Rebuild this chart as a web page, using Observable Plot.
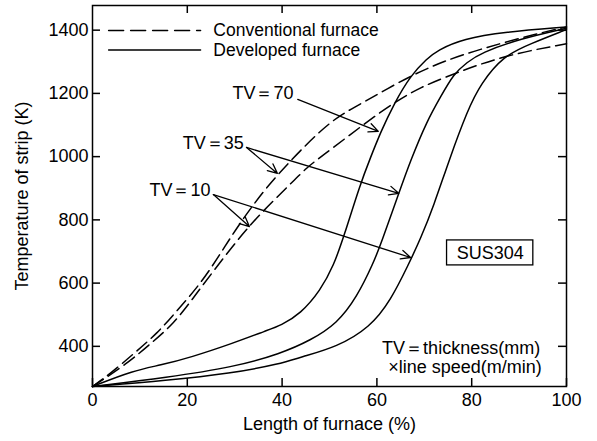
<!DOCTYPE html>
<html>
<head>
<meta charset="utf-8">
<script src="https://cdn.jsdelivr.net/npm/d3@7"></script>
<script src="https://cdn.jsdelivr.net/npm/@observablehq/plot@0.6"></script>
<style>
  html, body { margin: 0; padding: 0; background: #fff; }
  #chart { width: 597px; height: 441px; }
</style>
</head>
<body>
<div id="chart"></div>
<script>
// ---- tick labels ----
const xTicks = [0, 20, 40, 60, 80, 100];
const yTicks = [400, 600, 800, 1000, 1200, 1400];
const xTopTicks = [20, 40, 60, 80];

// ---- Conventional furnace (dashed) ----
const convTV35_x = [0, 3.8, 8.7, 13.6, 17.9, 22.8, 27.0, 30.5, 36.1, 41.8, 48.1, 52.3, 57.2, 62.2, 67.8, 74.1, 81.9, 93.8, 100];
const convTV35_T = [273, 314, 377, 440, 514, 598, 693, 777, 893, 988, 1083, 1132, 1172, 1215, 1260, 1302, 1341, 1389, 1410];
const convTV10_x = [0, 7.3, 12.2, 17.2, 21.4, 25.6, 30.5, 35.4, 41.8, 45.3, 48.1, 57.2, 63.2, 69.2, 76.2, 86.8, 100];
const convTV10_T = [273, 345, 408, 472, 556, 640, 735, 820, 914, 967, 998, 1102, 1167, 1220, 1262, 1320, 1357];

// ---- Developed furnace (solid) ----
const devTV70_x = [0, 8.7, 14.3, 20.7, 29.7, 36.9, 39.7, 43.9, 48.1, 50.9, 53.0, 56.5, 58.6, 60.8, 63.6, 67.1, 70.6, 72.7, 78.3, 86.8, 100];
const devTV70_T = [273, 324, 340, 365, 410, 451, 466, 503, 577, 656, 746, 914, 995, 1078, 1167, 1257, 1310, 1336, 1373, 1394, 1410];
const devTV35_x = [0, 15.8, 29.7, 39.7, 46.0, 51.6, 55.8, 59.3, 60.8, 64.6, 67.1, 70.6, 73.4, 76.2, 79.0, 81.9, 90.3, 100];
const devTV35_T = [273, 302, 334, 377, 419, 472, 556, 665, 722, 883, 988, 1114, 1188, 1262, 1298, 1328, 1373, 1406];
const devTV10_x = [0, 15.8, 29.1, 39.7, 43.9, 51.6, 58.6, 62.9, 66.7, 69.2, 72.0, 75.2, 79.1, 81.9, 86.8, 92.4, 100];
const devTV10_T = [273, 292, 314, 345, 366, 398, 461, 545, 660, 740, 845, 988, 1146, 1231, 1320, 1357, 1402];

// ---- annotations (data coordinates) ----
const labelText = ["TV＝70", "TV＝35", "TV＝10"];
const labelX = [42.4, 31.9, 24.9];
const labelT = [1200, 1042, 893];
const arrowX1 = [43.3, 32.5, 32.5, 25.5, 25.5];
const arrowT1 = [1181, 1029, 1029, 880, 880];
const arrowX2 = [60.3, 39.0, 64.6, 33.1, 67.1];
const arrowT2 = [1080, 947, 884, 779, 681];

const legendNames = ["Conventional furnace", "Developed furnace"];
const noteLines = ["TV＝thickness(mm)", "×line speed(m/min)"];
const materialLabel = "SUS304";

// ---- build tables ----
function rowsOf(name, xs, ts) { return xs.map((x, i) => ({series: name, x, t: ts[i]})); }
const convRows = [...rowsOf("conv TV=35", convTV35_x, convTV35_T), ...rowsOf("conv TV=10", convTV10_x, convTV10_T)];
const devRows = [...rowsOf("dev TV=70", devTV70_x, devTV70_T), ...rowsOf("dev TV=35", devTV35_x, devTV35_T), ...rowsOf("dev TV=10", devTV10_x, devTV10_T)];
const labels = labelText.map((s, i) => ({s, x: labelX[i], t: labelT[i]}));
const arrows = arrowX1.map((x1, i) => ({x1, y1: arrowT1[i], x2: arrowX2[i], y2: arrowT2[i]}));

const W = 597, H = 441, mL = 92, mR = 31, mT = 5, mB = 55;
const fw = W - mL - mR, fh = H - mT - mB, tk = 8;
const legendT = [1399, 1337];

const chart = Plot.plot({
  width: W, height: H,
  marginLeft: mL, marginRight: mR, marginTop: mT, marginBottom: mB,
  style: {fontFamily: "'Liberation Sans', Arial, Helvetica, sans-serif", fontSize: "18px", color: "#000", background: "#fff"},
  x: {domain: [0, 100]},
  y: {domain: [273, 1478]},
  marks: [
    // curves
    Plot.line(convRows, {x: "x", y: "t", z: "series", curve: "basis", stroke: "#000", strokeWidth: 1.5, strokeDasharray: "13,6"}),
    Plot.line(devRows, {x: "x", y: "t", z: "series", curve: "basis", stroke: "#000", strokeWidth: 1.5}),
    // legend
    Plot.line([{x: 3.4, t: legendT[0]}, {x: 22.8, t: legendT[0]}], {x: "x", y: "t", stroke: "#000", strokeWidth: 1.5, strokeDasharray: "15,7"}),
    Plot.line([{x: 3.4, t: legendT[1]}, {x: 22.8, t: legendT[1]}], {x: "x", y: "t", stroke: "#000", strokeWidth: 1.5}),
    Plot.text(legendNames, {x: 25.5, y: (d, i) => legendT[i], text: d => d, textAnchor: "start", lineAnchor: "middle", fontSize: 17.5, fill: "#000"}),
    // TV labels & arrows
    Plot.text(labels, {x: "x", y: "t", text: "s", textAnchor: "end", lineAnchor: "middle", fill: "#000"}),
    Plot.arrow(arrows, {x1: "x1", y1: "y1", x2: "x2", y2: "y2", stroke: "#000", strokeWidth: 1.3, headLength: 12, headAngle: 50}),
    // material box
    Plot.rect([{x1: 74.8, x2: 93.0, y1: 656, y2: 735}], {x1: "x1", x2: "x2", y1: "y1", y2: "y2", fill: "none", stroke: "#000", strokeWidth: 1.3}),
    Plot.text([materialLabel], {x: 83.9, y: 695, text: d => d, textAnchor: "middle", lineAnchor: "middle", fill: "#000"}),
    // note
    Plot.text(noteLines, {x: (d, i) => [61.1, 62.4][i], y: (d, i) => [394, 335][i], text: d => d, textAnchor: "start", lineAnchor: "middle", fill: "#000"}),
    // frame & inward ticks
    Plot.frame({stroke: "#000", strokeWidth: 1.5}),
    Plot.tickX(xTicks, {x: d => d, insetTop: fh - tk, stroke: "#000", strokeWidth: 1.5}),
    Plot.tickX(xTopTicks, {x: d => d, insetBottom: fh - tk, stroke: "#000", strokeWidth: 1.5}),
    Plot.tickY(yTicks, {y: d => d, insetRight: fw - tk, stroke: "#000", strokeWidth: 1.5}),
    Plot.tickY(yTicks, {y: d => d, insetLeft: fw - tk, stroke: "#000", strokeWidth: 1.5}),
    // axes (labels only)
    Plot.axisX({ticks: xTicks, tickSize: 0, tickPadding: 7, label: null, tickFormat: d => String(d), fill: "#000"}),
    Plot.axisY({ticks: yTicks, tickSize: 0, tickPadding: 4, label: null, tickFormat: d => String(d), fill: "#000"}),
    Plot.text(["Length of furnace (%)"], {frameAnchor: "bottom", dy: 38, text: d => d, textAnchor: "middle", lineAnchor: "middle", fill: "#000"}),
    Plot.text(["Temperature of strip (K)"], {frameAnchor: "left", dx: -70, rotate: -90, text: d => d, textAnchor: "middle", lineAnchor: "middle", fill: "#000"})
  ]
});
document.getElementById("chart").appendChild(chart);
</script>
</body>
</html>
